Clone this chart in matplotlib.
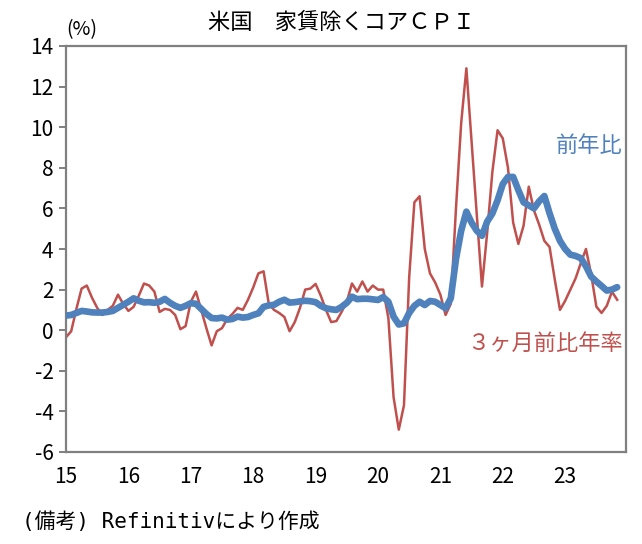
import matplotlib
matplotlib.use("Agg")
import matplotlib.pyplot as plt
import numpy as np

# Data: monthly, Jan 2015 .. Nov 2023
yoy = [0.72, 0.75, 0.85, 0.95, 0.92, 0.88, 0.87, 0.87, 0.90, 0.95, 1.10, 1.25,
       1.40, 1.57, 1.45, 1.37, 1.38, 1.35, 1.40, 1.54, 1.35, 1.20, 1.10, 1.20,
       1.33, 1.30, 1.05, 0.80, 0.60, 0.58, 0.62, 0.52, 0.55, 0.67, 0.62, 0.65,
       0.75, 0.83, 1.15, 1.22, 1.25, 1.40, 1.50, 1.36, 1.38, 1.42, 1.45, 1.43,
       1.38, 1.20, 1.08, 1.03, 1.00, 1.15, 1.35, 1.65, 1.53, 1.55, 1.55, 1.52,
       1.49, 1.63, 1.40, 0.67, 0.28, 0.34, 0.85, 1.20, 1.40, 1.24, 1.44, 1.40,
       1.24, 1.08, 1.57, 3.50, 4.90, 5.84, 5.30, 4.90, 4.65, 5.35, 5.75, 6.40,
       7.20, 7.55, 7.55, 6.90, 6.30, 6.15, 6.00, 6.35, 6.61, 5.76, 5.00, 4.40,
       4.00, 3.72, 3.66, 3.55, 3.15, 2.64, 2.40, 2.18, 1.95, 2.00, 2.12]

ann3m = [-0.35, -0.05, 1.05, 2.05, 2.20, 1.60, 1.10, 0.75, 1.00, 1.20, 1.75, 1.30,
         0.95, 1.15, 1.70, 2.30, 2.20, 1.90, 0.90, 1.05, 1.00, 0.75, 0.05, 0.20,
         1.40, 1.90, 1.00, 0.10, -0.75, -0.05, 0.10, 0.55, 0.80, 1.10, 1.00, 1.50,
         2.10, 2.80, 2.90, 1.30, 1.00, 0.85, 0.65, -0.05, 0.40, 1.10, 2.00, 2.05,
         2.28, 1.70, 1.00, 0.40, 0.45, 0.90, 1.40, 2.30, 1.90, 2.40, 1.90, 2.20,
         2.00, 2.00, 0.60, -3.30, -4.90, -3.70, 2.60, 6.30, 6.60, 4.00, 2.80, 2.35,
         1.75, 0.75, 1.30, 6.00, 10.20, 12.90, 9.30, 5.70, 2.15, 4.80, 7.80, 9.85,
         9.45, 8.00, 5.30, 4.25, 5.15, 7.07, 5.90, 5.20, 4.40, 4.10, 2.50, 1.00,
         1.45, 2.00, 2.55, 3.30, 4.00, 2.75, 1.16, 0.85, 1.20, 1.90, 1.50]

year_labels = ['15', '16', '17', '18', '19', '20', '21', '22', '23']
y_ticks = [-6, -4, -2, 0, 2, 4, 6, 8, 10, 12, 14]

JP = ['Noto Sans CJK JP', 'DejaVu Sans']
MONO_JP = ['DejaVu Sans Mono', 'Noto Sans CJK JP', 'DejaVu Sans']
plt.rcParams['font.family'] = JP

W, H = 642, 544
fig = plt.figure(figsize=(W / 100, H / 100), dpi=100)
ax = fig.add_axes([66 / W, 1 - 452 / H, (626 - 66) / W, (452 - 46) / H])

x = np.arange(len(yoy))
red = '#C0504D'
blue = '#4F81BD'
ax.plot(x, ann3m, color=red, lw=1.8, solid_joinstyle='round', zorder=2)
ax.plot(x, yoy, color=blue, lw=4.8, solid_joinstyle='round',
        solid_capstyle='round', zorder=3)

ax.set_xlim(0, 107.7)
ax.set_ylim(-6, 14)
ax.set_yticks(y_ticks)
ax.set_yticklabels([str(v) for v in y_ticks])
ax.set_xticks(np.arange(len(year_labels)) * 12)
ax.set_xticklabels(year_labels)

for s in ax.spines.values():
    s.set_color('#808080')
    s.set_linewidth(1.6)

ax.tick_params(axis='y', direction='out', length=5, width=1.4, color='#808080',
               labelsize=15, pad=4, labelcolor='black')
ax.tick_params(axis='x', length=0, labelsize=15, pad=10, labelcolor='black')

fig.text(341 / W, 1 - 22 / H, '米国　家賃除くコアＣＰＩ', ha='center', va='center',
         fontsize=16)
fig.text(66 / W, 1 - 30 / H, '(%)', ha='left', va='center', fontsize=14)
fig.text(623 / W, 1 - 145 / H, '前年比', ha='right', va='center', fontsize=16,
         color=blue)
fig.text(623 / W, 1 - 343 / H, '３ヶ月前比年率', ha='right', va='center', fontsize=16,
         color=red)
fig.text(22 / W, 1 - 522 / H, '(備考) Refinitivにより作成', ha='left', va='center',
         fontsize=15, family=MONO_JP)

fig.savefig('out.png', dpi=100)
